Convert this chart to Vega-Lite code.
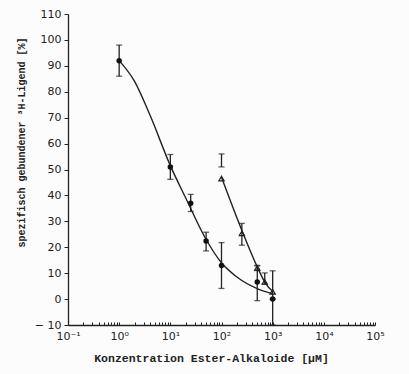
{
  "$schema": "https://vega.github.io/schema/vega-lite/v6.json",
  "width": 307,
  "height": 311,
  "autosize": {"type": "none"},
  "padding": {"left": 68, "top": 14, "right": 34, "bottom": 49},
  "background": "#fcfcfc",
  "config": {
    "view": {"stroke": null},
    "axis": {"grid": false, "domainColor": "#222", "tickColor": "#222", "labelColor": "#222", "titleColor": "#222", "labelFont": "DejaVu Sans", "labelFontSize": 11, "titleFont": "Liberation Mono", "titleFontWeight": "bold", "domainWidth": 1.3}
  },
  "datasets": {
    "pts": [
      {"series": "A", "conc": 1, "pct": 92, "lo": 86, "hi": 98},
      {"series": "A", "conc": 10, "pct": 51, "lo": 46.2, "hi": 55.8},
      {"series": "A", "conc": 25, "pct": 37, "lo": 33.8, "hi": 40.4},
      {"series": "A", "conc": 50, "pct": 22.4, "lo": 18.6, "hi": 25.8},
      {"series": "A", "conc": 100, "pct": 13, "lo": 4.1, "hi": 21.8},
      {"series": "A", "conc": 500, "pct": 6.6, "lo": -0.6, "hi": 12.8},
      {"series": "A", "conc": 1000, "pct": 0, "lo": -10, "hi": 0},
      {"series": "B", "conc": 100, "pct": 46.5, "lo": 51, "hi": 56},
      {"series": "B", "conc": 250, "pct": 25.4, "lo": 20.8, "hi": 29.2},
      {"series": "B", "conc": 500, "pct": 12, "lo": 11, "hi": 13},
      {"series": "B", "conc": 700, "pct": 6.6, "lo": 5.8, "hi": 10.1},
      {"series": "B", "conc": 1000, "pct": 2.8, "lo": 0, "hi": 10.9}
    ],
    "curves": [
      {"series": "A", "conc": 1, "pct": 92},
      {"series": "A", "conc": 2, "pct": 84},
      {"series": "A", "conc": 4, "pct": 71},
      {"series": "A", "conc": 10, "pct": 51.5},
      {"series": "A", "conc": 20, "pct": 39},
      {"series": "A", "conc": 50, "pct": 23},
      {"series": "A", "conc": 100, "pct": 14},
      {"series": "A", "conc": 200, "pct": 8.5},
      {"series": "A", "conc": 500, "pct": 4},
      {"series": "A", "conc": 1000, "pct": 2},
      {"series": "B", "conc": 100, "pct": 47},
      {"series": "B", "conc": 250, "pct": 26.5},
      {"series": "B", "conc": 500, "pct": 12.4},
      {"series": "B", "conc": 730, "pct": 6},
      {"series": "B", "conc": 1000, "pct": 3}
    ]
  },
  "encoding": {
    "x": {
      "field": "conc", "type": "quantitative",
      "scale": {"type": "log", "domain": [0.1, 100000], "nice": false},
      "axis": {
        "title": "Konzentration Ester-Alkaloide [µM]",
        "titleFontSize": 11.5,
        "titleX": 143,
        "titlePadding": 11,
        "values": [0.1,0.2,0.3,0.4,0.5,0.6,0.7,0.8,0.9,1,2,3,4,5,6,7,8,9,10,20,30,40,50,60,70,80,90,100,200,300,400,500,600,700,800,900,1000,2000,3000,4000,5000,6000,7000,8000,9000,10000,20000,30000,40000,50000,60000,70000,80000,90000,100000],
        "labelExpr": "abs(log(datum.value)/LN10 - round(log(datum.value)/LN10)) > 0.001 ? '' : (round(log(datum.value)/LN10) == -1 ? '10⁻¹' : round(log(datum.value)/LN10) == 0 ? '10⁰' : round(log(datum.value)/LN10) == 1 ? '10¹' : round(log(datum.value)/LN10) == 2 ? '10²' : round(log(datum.value)/LN10) == 3 ? '10³' : round(log(datum.value)/LN10) == 4 ? '10⁴' : '10⁵')",
        "labelFlush": false,
        "labelOverlap": false,
        "tickSize": -3,
        "labelPadding": 8
      }
    },
    "y": {
      "field": "pct", "type": "quantitative",
      "scale": {"domain": [-10, 110], "nice": false},
      "axis": {
        "title": "spezifisch gebundener ³H-Ligend [%]",
        "titleFontSize": 10,
        "titleY": 128,
        "titlePadding": 8,
        "values": [-10,0,10,20,30,40,50,60,70,80,90,100,110],
        "labelExpr": "datum.value < 0 ? '− ' + abs(datum.value) : datum.label",
        "tickSize": 4,
        "labelPadding": 3
      }
    }
  },
  "layer": [
    {
      "data": {"name": "curves"},
      "mark": {"type": "line", "interpolate": "monotone", "color": "#222", "strokeWidth": 1.4},
      "encoding": {"detail": {"field": "series"}}
    },
    {
      "data": {"name": "pts"},
      "mark": {"type": "errorbar", "ticks": {"size": 6, "color": "#222", "thickness": 1.3}, "rule": {"color": "#222", "strokeWidth": 1.3}},
      "encoding": {
        "y": {"field": "lo", "type": "quantitative"},
        "y2": {"field": "hi"}
      }
    },
    {
      "data": {"name": "pts"},
      "transform": [{"filter": "datum.series == 'A'"}],
      "mark": {"type": "point", "shape": "circle", "filled": true, "color": "#111", "size": 30, "opacity": 1}
    },
    {
      "data": {"name": "pts"},
      "transform": [{"filter": "datum.series == 'B'"}],
      "mark": {"type": "point", "shape": "triangle-up", "filled": false, "color": "#222", "size": 28, "strokeWidth": 1.2, "opacity": 1}
    }
  ]
}
